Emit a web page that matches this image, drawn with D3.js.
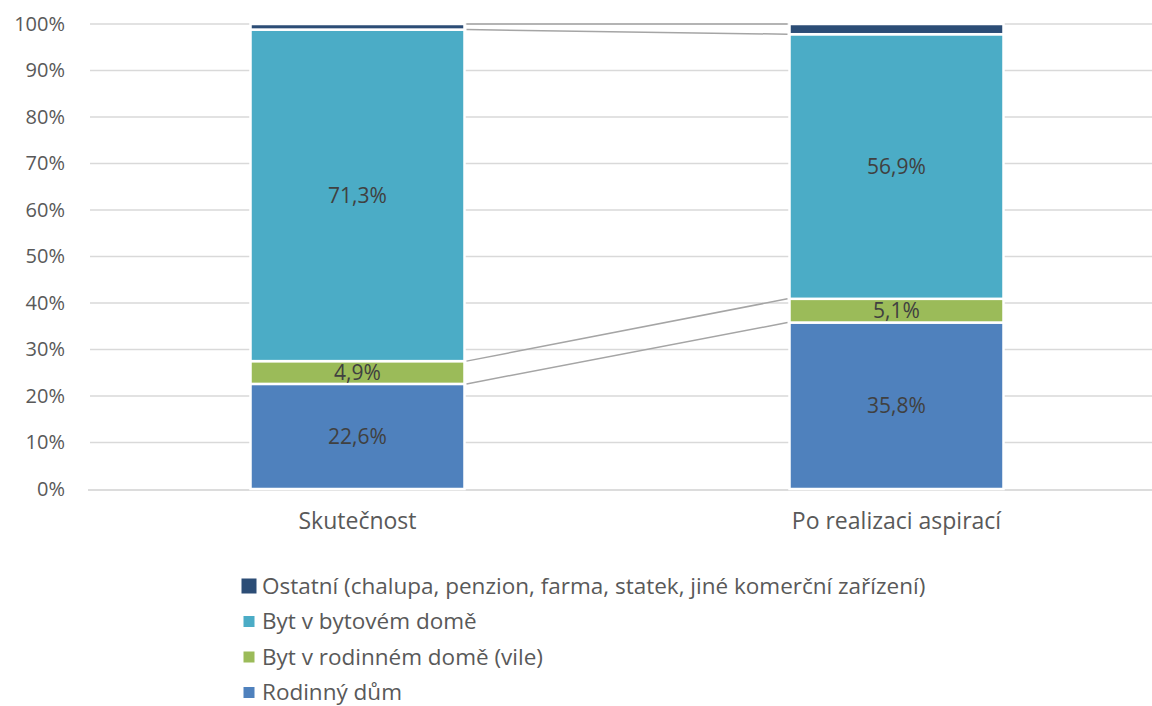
<!DOCTYPE html>
<html>
<head>
<meta charset="utf-8">
<script src="https://cdn.jsdelivr.net/npm/d3@7"></script>
<style>
  body { margin: 0; background: #fff; }
  svg { display: block; }
  text { font-family: "Open Sans", sans-serif; }
</style>
</head>
<body>
<div id="chart"></div>
<script>
// categories and series (bottom to top)
var categories = ["Skutečnost", "Po realizaci aspirací"];
var seriesNames = ["Rodinný dům", "Byt v rodinném domě (vile)", "Byt v bytovém domě",
                   "Ostatní (chalupa, penzion, farma, statek, jiné komerční zařízení)"];
var rodinnyDum = [22.6, 35.8];
var bytRodinny = [4.9, 5.1];
var bytBytovy = [71.3, 56.9];
var ostatni = [1.2, 2.2];
var yTicks = [0, 10, 20, 30, 40, 50, 60, 70, 80, 90, 100];

var colors = ["#4f81bd", "#9bbb59", "#4bacc6", "#2c4d76"];
var grey = "#595959";

var W = 1152, H = 706;
var margin = {top: 24, left: 88};
var width = 1078,
    height = 465;

var svg = d3.select("#chart").append("svg")
    .attr("width", W).attr("height", H)
  .append("g")
    .attr("transform", "translate(" + margin.left + "," + margin.top + ")");

// build rows for the stack
var rows = categories.map(function(c, i) {
  return {cat: c, s0: rodinnyDum[i], s1: bytRodinny[i], s2: bytBytovy[i], s3: ostatni[i]};
});
var keys = ["s0", "s1", "s2", "s3"];
var stacked = d3.stack().keys(keys)(rows);

var x = d3.scaleBand().domain(categories).range([0, width]).paddingInner(0.603).paddingOuter(0.3015);
var y = d3.scaleLinear().domain([0, 100]).range([height, 0]);

// gridlines
svg.selectAll(".grid")
  .data(yTicks.filter(function(t) { return t > 0; }))
  .enter().append("line")
    .attr("x1", 2).attr("x2", width)
    .attr("y1", function(d) { return y(d); })
    .attr("y2", function(d) { return y(d); })
    .attr("stroke", "#d9d9d9").attr("stroke-width", 1.3);

// baseline
svg.append("line")
  .attr("x1", 0).attr("x2", width)
  .attr("y1", y(0) + 1).attr("y2", y(0) + 1)
  .attr("stroke", "#d0d0d0").attr("stroke-width", 1.6);

// y axis labels
var yAxis = svg.append("g")
  .call(d3.axisLeft(y).tickValues(yTicks).tickSize(0).tickPadding(23)
    .tickFormat(function(d) { return d + "%"; }));
yAxis.select(".domain").remove();
yAxis.selectAll("text").style("font-size", "20px").attr("fill", grey)
  .style("font-family", "'Open Sans', sans-serif");

// x axis labels
var xAxis = svg.append("g")
  .attr("transform", "translate(0," + height + ")")
  .call(d3.axisBottom(x).tickSize(0).tickPadding(24));
xAxis.select(".domain").remove();
xAxis.selectAll("text").style("font-size", "23px").attr("fill", grey)
  .style("font-family", "'Open Sans', sans-serif");

// series lines between bars
stacked.forEach(function(layer) {
  svg.append("line")
    .attr("x1", x(categories[0]) + x.bandwidth() + 2)
    .attr("x2", x(categories[1]) - 2)
    .attr("y1", y(layer[0][1]))
    .attr("y2", y(layer[1][1]))
    .attr("stroke", "#a5a5a5").attr("stroke-width", 1.5);
});

// bars
var layers = svg.selectAll(".layer")
  .data(stacked)
  .enter().append("g")
    .attr("fill", function(d, i) { return colors[i]; });

layers.selectAll("rect")
  .data(function(d) { return d; })
  .enter().append("rect")
    .attr("x", function(d) { return x(d.data.cat); })
    .attr("width", x.bandwidth())
    .attr("y", function(d) { return y(d[1]); })
    .attr("height", function(d) { return y(d[0]) - y(d[1]); })
    .attr("stroke", "#fff").attr("stroke-width", 2.5);

// data labels (not for Ostatní)
stacked.slice(0, 3).forEach(function(layer) {
  svg.selectAll(null)
    .data(layer)
    .enter().append("text")
      .attr("x", function(d) { return x(d.data.cat) + x.bandwidth() / 2; })
      .attr("y", function(d) { return (y(d[0]) + y(d[1])) / 2; })
      .attr("dy", "0.35em")
      .attr("text-anchor", "middle")
      .style("font-size", "21px")
      .attr("fill", "#404040")
      .text(function(d) { return (d[1] - d[0]).toFixed(1).replace(".", ",") + "%"; });
});

// legend (top item = Ostatní)
var legend = svg.append("g")
  .attr("transform", "translate(" + (249 - margin.left) + "," + (586 - margin.top) + ")");
var legendItems = seriesNames.slice().reverse();
var legendColors = colors.slice().reverse();
var legendBox = [15, 11, 11, 11];
legendItems.forEach(function(name, i) {
  var g = legend.append("g").attr("transform", "translate(0," + (i * 35.5) + ")");
  g.append("rect")
    .attr("x", -legendBox[i] / 2).attr("y", -legendBox[i] / 2)
    .attr("width", legendBox[i]).attr("height", legendBox[i])
    .attr("fill", legendColors[i]);
  g.append("text")
    .attr("x", 13).attr("y", 0).attr("dy", "0.35em")
    .style("font-size", "22.5px").attr("fill", grey)
    .text(name);
});
</script>
</body>
</html>
